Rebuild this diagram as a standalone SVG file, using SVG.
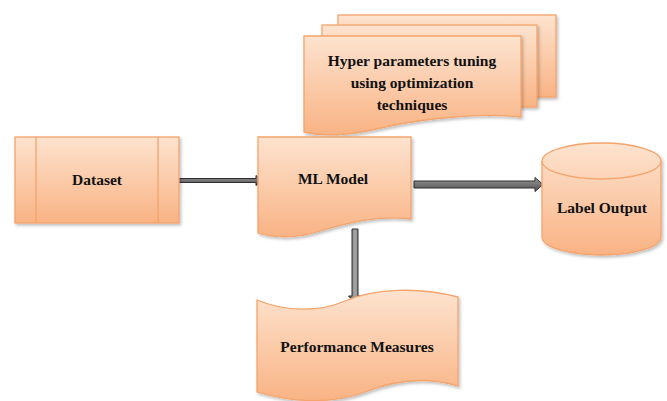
<svg xmlns="http://www.w3.org/2000/svg" width="667" height="401" viewBox="0 0 667 401">
<style>
.n{fill:url(#og);stroke:#f5a46c;stroke-width:1.3;filter:url(#sh)}
.t{font-family:"Liberation Serif","Times New Roman",serif;font-size:15.5px;font-weight:bold;fill:#111;text-anchor:middle}
.a{fill:url(#gg);stroke:#2e2e2e;stroke-width:1}
</style>
<defs>
<linearGradient id="og" x1="0" y1="0" x2="0" y2="1">
<stop offset="0" stop-color="#fde3cf"/>
<stop offset="1" stop-color="#f9b384"/>
</linearGradient>
<linearGradient id="gg" x1="0" y1="0" x2="0" y2="1">
<stop offset="0" stop-color="#9a9a9a"/>
<stop offset="1" stop-color="#505050"/>
</linearGradient>
<linearGradient id="gv" x1="0" y1="0" x2="1" y2="0">
<stop offset="0" stop-color="#5a5a5a"/>
<stop offset="0.5" stop-color="#a8a8a8"/>
<stop offset="1" stop-color="#5a5a5a"/>
</linearGradient>
<filter id="sh" x="-10%" y="-10%" width="130%" height="130%">
<feDropShadow dx="1.5" dy="2" stdDeviation="1.5" flood-color="#000" flood-opacity="0.25"/>
</filter>
</defs>
<g id="connectors">
<path class="a" d="M179,178.5 H256 V175.5 L262,180.5 L256,185.5 V182.5 H179 Z"/>
<path class="a" d="M414,181 H535 V177.5 L543,184.5 L535,191.5 V188 H414 Z"/>
<path class="a" style="fill:url(#gv)" d="M352,229 V296 H348.5 L355,303 L361.5,296 H358 V229 Z"/>
</g>
<g id="hyper">
<rect class="n" x="338" y="15" width="218" height="82"/>
<rect class="n" x="322" y="25" width="215" height="82"/>
<path class="n" d="M304,36 H521 V117 C485,113 430,117 385,127 C355,134 330,138 304,132 Z"/>
<text class="t" x="412" y="66">Hyper parameters tuning</text>
<text class="t" x="412" y="88">using optimization</text>
<text class="t" x="412" y="110">techniques</text>
</g>
<g id="dataset">
<rect class="n" x="15" y="137" width="164" height="86"/>
<line x1="36" y1="137" x2="36" y2="223" stroke="#f5a46c" stroke-width="1.3"/>
<line x1="158" y1="137" x2="158" y2="223" stroke="#f5a46c" stroke-width="1.3"/>
<text class="t" x="97" y="185">Dataset</text>
</g>
<g id="mlmodel">
<path class="n" d="M258,137 H411 V219 C380,215 350,222 320,231 C295,239 275,238 258,233 Z"/>
<text class="t" x="333" y="184">ML Model</text>
</g>
<g id="label">
<path class="n" d="M542,161 A59.5,18 0 0 1 661,161 V237 A59.5,18 0 0 1 542,237 Z"/>
<path d="M542,161 A59.5,18 0 0 0 661,161" fill="none" stroke="#f5a46c" stroke-width="1.3"/>
<text class="t" x="602" y="213">Label Output</text>
</g>
<g id="performance">
<path class="n" d="M257,300 C285,312 320,312 345,301 C375,288 420,287 458,297 V386 C425,376 395,380 365,392 C330,405 290,402 257,392 Z"/>
<text class="t" x="357" y="352">Performance Measures</text>
</g>
</svg>
